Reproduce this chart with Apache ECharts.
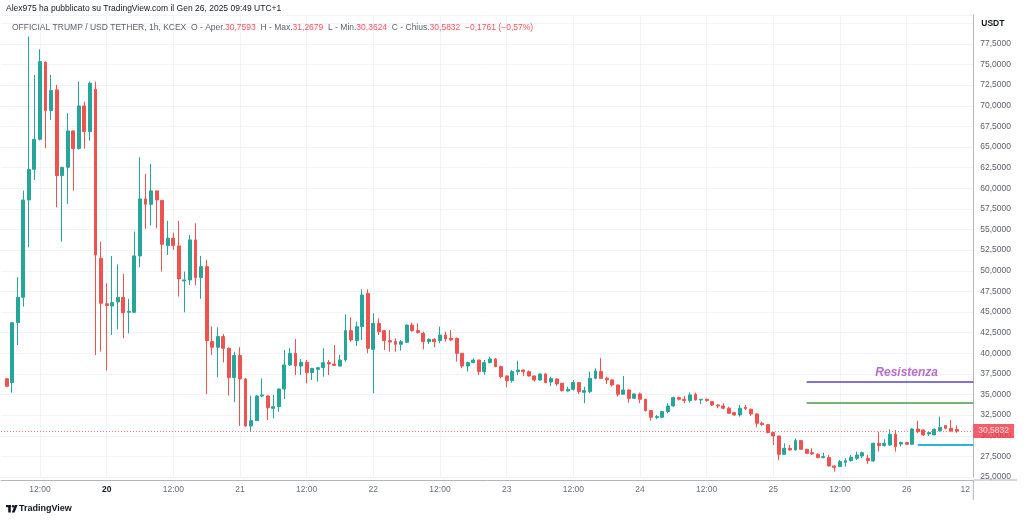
<!DOCTYPE html>
<html><head><meta charset="utf-8">
<script src="https://cdn.jsdelivr.net/npm/echarts@6/dist/echarts.min.js"></script>
<style>html,body{margin:0;padding:0;background:#fff}#c{width:1024px;height:522px}</style>
</head><body><div id="c"></div>
<script>
// Hour slots counted from Jan 19 00:00 (local). Axis runs 05:00 Jan 19 -> 12:00 Jan 26.
const firstSlotHour = 5;
const lastSlotHour = 180;
const firstCandleHour = 6;

const opens = [36.9,36.44,43.71,46.78,58.58,62.3,65.94,75.27,69.41,71.92,61.53,62.54,66.95,64.81,69.98,66.87,72.0,51.51,46.0,45.73,46.22,46.78,44.97,44.97,51.8,58.71,58.06,59.68,58.51,53.05,53.94,53.01,48.77,48.89,53.74,49.17,50.5,41.41,40.73,42.02,40.6,37.05,39.72,36.88,31.18,31.83,34.82,34.82,33.32,33.52,35.67,38.58,39.99,38.45,38.9,37.65,38.05,38.25,38.86,38.7,38.45,39.18,42.74,41.53,43.22,47.26,40.47,43.63,42.74,41.53,41.45,41.08,41.32,43.42,42.74,42.41,41.4,41.69,41.53,42.21,41.81,41.81,39.99,38.45,38.86,39.18,37.77,38.86,39.31,38.38,37.25,36.68,37.77,37.97,37.77,37.25,36.76,37.49,36.52,36.88,36.36,35.43,35.63,36.44,35.26,35.35,36.96,37.8,36.97,36.77,36.16,35.03,35.55,34.54,35.07,34.42,33.05,32.2,32.24,32.93,33.61,34.62,34.42,34.26,35.03,34.34,34.42,34.14,33.73,33.61,33.33,32.8,32.52,33.45,33.21,32.64,31.51,31.35,30.38,29.97,27.75,28.48,28.28,29.41,28.36,27.95,27.75,27.35,27.35,26.34,26.26,26.78,26.98,27.27,27.55,27.27,26.94,29.09,28.8,28.88,30.18,29.0,29.17,28.97,30.82,30.7,30.22,30.1,30.62,31.23,30.9,30.7593];
const closes = [36.0,43.71,46.78,58.58,62.3,65.94,75.35,69.41,71.84,61.53,62.54,66.95,64.81,69.98,66.87,72.73,51.92,46.06,45.8,46.14,46.78,44.92,45.08,51.8,58.71,58.06,59.68,58.59,53.21,53.94,53.05,49.01,48.89,53.74,49.17,50.5,41.53,40.73,42.02,40.6,37.05,39.72,36.89,31.18,31.83,34.82,34.94,33.4,33.52,35.67,38.58,39.99,38.45,38.9,37.65,38.17,38.25,38.86,38.7,38.53,39.18,42.74,41.61,43.22,47.06,40.6,43.63,42.62,41.53,41.36,41.08,41.4,43.42,42.74,42.5,41.4,41.69,41.4,42.21,41.73,41.61,39.99,38.45,38.86,39.18,37.77,38.86,39.31,38.38,37.17,36.68,37.77,37.97,37.77,37.25,36.76,37.49,36.44,36.92,36.28,35.47,35.63,36.44,35.35,35.47,36.96,37.85,36.97,36.77,36.16,35.03,35.55,34.54,35.07,34.42,33.05,32.24,32.32,32.93,33.61,34.62,34.42,34.26,34.95,34.34,34.42,34.26,33.73,33.61,33.33,32.72,32.52,33.33,33.29,32.64,31.51,31.35,30.38,29.97,27.75,28.48,28.28,29.41,28.36,27.87,27.79,27.35,27.47,26.34,26.18,26.86,26.98,27.39,27.67,27.95,26.98,29.09,28.8,29.09,30.18,28.68,29.17,28.97,30.82,30.5,30.1,30.38,30.78,31.03,30.9,30.58,30.5832];
const lows = [35.9,35.23,41.0,45.65,52.85,61.0,65.8,64.85,68.28,57.69,53.53,58.1,59.71,64.7,64.81,65.78,39.79,40.2,37.89,42.22,42.9,41.81,42.4,44.9,50.43,55.07,55.48,55.15,49.9,51.92,52.53,46.87,44.97,48.28,48.2,46.59,35.07,39.8,37.09,38.9,34.87,34.06,31.19,31.1,30.49,31.83,34.7,31.91,32.11,32.92,34.45,38.45,37.36,37.36,36.35,36.76,36.55,37.16,37.36,38.45,38.4,38.98,41.4,40.88,41.6,39.99,35.14,42.21,40.39,40.19,40.19,40.31,41.3,42.62,42.41,40.47,41.12,40.72,41.2,41.4,41.49,38.98,38.17,37.77,38.78,37.36,37.37,38.78,38.3,36.96,35.87,36.44,37.37,37.25,37.17,36.56,36.68,36.36,36.03,36.03,35.35,35.35,35.47,35.06,33.93,35.14,36.84,36.9,36.28,35.96,34.74,35.0,34.02,34.46,33.94,32.93,31.84,32.0,32.12,32.72,33.53,34.26,33.94,34.02,34.26,33.86,34.14,33.61,33.33,33.21,32.64,32.4,32.32,33.13,32.4,31.02,31.19,30.3,28.88,27.06,27.67,28.2,28.2,28.28,27.79,27.67,27.27,27.27,26.26,25.65,26.2,26.26,26.86,27.07,27.27,26.58,26.86,28.08,28.68,28.8,28.08,28.68,28.9,28.88,30.3,29.98,29.98,30.1,30.5,30.78,30.5,30.3624];
const highs = [37.0,43.8,49.21,59.71,78.4,73.74,76.85,75.4,73.74,72.52,62.6,69.09,67.0,72.93,70.5,72.93,72.93,53.53,48.48,51.79,50.78,49.6,46.6,54.75,63.76,61.74,62.95,59.7,58.6,56.04,54.63,56.04,49.9,54.35,55.76,51.8,51.32,43.23,43.15,42.34,40.7,40.2,40.73,37.0,34.86,34.94,36.96,34.9,34.94,35.7,40.39,40.6,41.73,39.3,39.18,38.2,38.3,40.6,39.18,41.0,39.8,44.72,44.35,43.83,47.75,47.75,44.84,44.23,42.8,42.82,41.81,41.6,43.5,43.7,43.62,42.62,41.81,41.81,43.22,42.62,42.82,41.9,40.0,38.98,39.38,39.2,39.18,39.59,39.4,38.5,37.3,37.97,39.1,38.05,37.9,37.3,37.57,37.57,37.17,36.96,36.4,35.95,36.76,36.5,35.95,37.77,38.17,39.4,37.17,36.8,36.2,37.25,35.6,35.1,35.23,34.5,33.1,32.52,33.0,33.94,34.74,34.74,34.83,35.27,35.23,34.42,34.5,34.2,33.8,33.93,33.53,32.9,33.73,33.73,33.3,32.7,31.7,31.4,30.45,30.0,29.08,28.88,29.69,29.45,28.4,28.48,27.87,27.95,27.67,26.4,27.07,27.27,27.67,28.08,28.08,27.67,29.17,30.5,29.57,30.78,30.7,29.29,29.2,30.9,31.83,30.75,30.5,30.9,32.32,31.31,31.91,31.2679];

const tickLabels = ['12:00','20','12:00','21','12:00','22','12:00','23','12:00','24','12:00','25','12:00','26','12'];
const lastPrice = 30.5832;
const lastPriceText = '30,5832';
const resistanceLevel = 36.56;
const greenLevel = 34.01;
const supportLevel = 28.96;
const resistanceLabelLevel = 37.61;
const levelStartHour = 150;   // Jan 25 06:00
const supportStartHour = 170; // Jan 26 02:00
const labelHour = 168;        // Jan 26 00:00

const UP = '#26a69a', DOWN = '#ef5350';

const categories = [];
const candles = [];
for (let h = firstSlotHour; h <= lastSlotHour; h++) {
  const day = 19 + Math.floor(h / 24), hh = h % 24;
  categories.push(day + '/01 ' + (hh < 10 ? '0' : '') + hh + ':00');
  const k = h - firstCandleHour;
  if (k >= 0 && k < opens.length) candles.push([opens[k], closes[k], lows[k], highs[k]]);
  else candles.push(['-', '-', '-', '-']);
}
const cat = h => categories[h - firstSlotHour];
const isTick = idx => { const h = idx + firstSlotHour; return h % 12 === 0 && h >= 12; };

const chart = echarts.init(document.getElementById('c'), null, {renderer: 'canvas'});
const font = '"Liberation Sans", Arial, sans-serif';
chart.setOption({
  animation: false,
  backgroundColor: '#ffffff',
  textStyle: {fontFamily: font},
  title: [
    {text: 'Alex975 ha pubblicato su TradingView.com il Gen 26, 2025 09:49 UTC+1', left: 6, top: 4, padding: 0,
     textStyle: {fontSize: 8.5, fontWeight: 500, color: '#131722', fontFamily: font}},
    {text: '{g|OFFICIAL TRUMP / USD TETHER, 1h, KCEX}  {g|O - Aper.}{r|30,7593}  {g|H - Max.}{r|31,2679}  {g|L - Min.}{r|30,3624}  {g|C - Chius.}{r|30,5832}  {r|\u22120,1761 (\u22120,57%)}',
     left: 12, top: 23, padding: 0,
     textStyle: {fontSize: 8.5, fontWeight: 'normal', fontFamily: font, rich: {
       g: {fontSize: 8.5, fontWeight: 'normal', color: '#5d606b', fontFamily: font},
       r: {fontSize: 8.5, fontWeight: 'normal', color: '#f7525f', fontFamily: font}}}}
  ],
  grid: {left: 1.1, right: 50.7, top: 15, bottom: 45},
  xAxis: {
    type: 'category', data: categories, boundaryGap: false, offset: 3,
    axisLine: {show: true, lineStyle: {color: '#b2b5be', width: 1}},
    axisTick: {show: false},
    axisLabel: {
      interval: (idx) => isTick(idx), margin: 5, fontSize: 8.5, color: '#6a6d78', fontFamily: font,
      formatter: (v, idx) => {
        const h = idx + firstSlotHour;
        const s = tickLabels[h / 12 - 1];
        if (s === '20') return '{b|' + s + '}';
        if (h === lastSlotHour) return '{e|' + s + '}';
        return s;
      },
      rich: {b: {fontWeight: 'bold', color: '#131722', fontSize: 8.5, fontFamily: font},
             e: {fontSize: 8.5, color: '#6a6d78', padding: [0, 16, 0, 0], fontFamily: font}}
    },
    splitLine: {show: true, interval: (idx) => isTick(idx), lineStyle: {color: '#f0f3fa', width: 1}}
  },
  yAxis: {
    type: 'value', position: 'right', min: 25, max: 81, interval: 2.5, scale: true,
    name: 'USDT', nameLocation: 'end', nameGap: -13,
    nameTextStyle: {align: 'left', padding: [0, 0, 0, 8], fontWeight: 'bold', fontSize: 8.5, color: '#131722', fontFamily: font},
    axisLine: {show: true, lineStyle: {color: '#b2b5be', width: 1}},
    axisTick: {show: false},
    axisLabel: {margin: 7, fontSize: 8.5, color: '#5d606b', fontFamily: font,
      formatter: v => v <= 77.5 ? v.toFixed(4).replace('.', ',') : ''},
    splitLine: {show: true, lineStyle: {color: '#f0f3fa', width: 1}}
  },
  series: [{
    type: 'candlestick',
    data: candles,
    barWidth: 3.4,
    itemStyle: {color: UP, color0: DOWN, borderColor: UP, borderColor0: DOWN, borderWidth: 1},
    markLine: {
      silent: true, symbol: ['none', 'none'], animation: false,
      data: [
        {yAxis: lastPrice,
         lineStyle: {color: DOWN, type: [1, 2], width: 1, opacity: 0.8},
         label: {show: true, position: 'end', distance: 0, formatter: lastPriceText, color: '#ffffff',
                 backgroundColor: '#f23645', padding: [3, 5, 2, 5], fontSize: 8.5, fontFamily: font}},
        [{coord: [cat(levelStartHour), resistanceLevel], lineStyle: {color: '#5b45c8', width: 1.5, type: 'solid'}, label: {show: false}},
         {coord: [cat(lastSlotHour), resistanceLevel]}],
        [{coord: [cat(levelStartHour), greenLevel], lineStyle: {color: '#4a9a48', width: 1.5, type: 'solid'}, label: {show: false}},
         {coord: [cat(lastSlotHour), greenLevel]}],
        [{coord: [cat(supportStartHour), supportLevel], lineStyle: {color: '#2bb8d8', width: 2, type: 'solid'}, label: {show: false}},
         {coord: [cat(lastSlotHour), supportLevel]}]
      ]
    },
    markPoint: {
      silent: true, animation: false,
      data: [{coord: [cat(labelHour), resistanceLabelLevel], symbol: 'circle', symbolSize: 1,
              itemStyle: {color: 'rgba(0,0,0,0)'},
              label: {show: true, position: 'inside', formatter: 'Resistenza', color: '#b86bd1',
                      fontStyle: 'italic', fontWeight: 'bold', fontSize: 12, fontFamily: font}}]
    }
  }],
  graphic: [
    {type: 'line', shape: {x1: 973.3, y1: 480, x2: 973.3, y2: 500}, style: {stroke: '#b2b5be', lineWidth: 1}},
    {type: 'line', shape: {x1: 973.3, y1: 480, x2: 1017, y2: 480}, style: {stroke: '#b2b5be', lineWidth: 1}},
    {type: 'group', left: 6, top: 505, children: [
      {type: 'rect', shape: {x: 0, y: 0, width: 5, height: 2.2}, style: {fill: '#131722'}},
      {type: 'rect', shape: {x: 2.2, y: 0, width: 2.6, height: 7.5}, style: {fill: '#131722'}},
      {type: 'circle', shape: {cx: 7, cy: 1.2, r: 1.2}, style: {fill: '#131722'}},
      {type: 'polygon', shape: {points: [[8.8, 0], [11.6, 0], [8.6, 7.5], [5.8, 7.5]]}, style: {fill: '#131722'}}
    ]},
    {type: 'text', left: 19, top: 504.5, style: {text: 'TradingView', fontSize: 9, fontWeight: 600, fill: '#131722', font: '600 9px ' + font}}
  ]
});
</script>
</body></html>
